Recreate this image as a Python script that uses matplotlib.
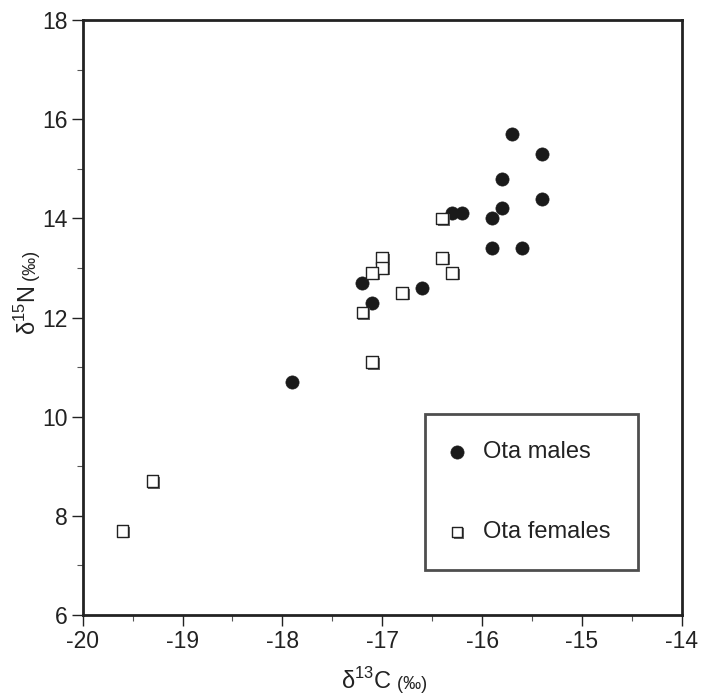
import numpy as np
import matplotlib
matplotlib.use("Agg")
import matplotlib.pyplot as plt
import matplotlib.patheffects as pe

plt.rcParams['font.family'] = ['Liberation Sans', 'DejaVu Sans']

# Ota males: d13C, d15N
males_c = [-15.7, -15.4, -15.8, -15.4, -15.8, -15.9, -16.3, -16.2, -15.9, -15.6, -17.2, -17.1, -16.6, -17.9]
males_n = [15.7, 15.3, 14.8, 14.4, 14.2, 14.0, 14.1, 14.1, 13.4, 13.4, 12.7, 12.3, 12.6, 10.7]

# Ota females
females_c = [-16.4, -17.0, -17.0, -17.1, -16.4, -16.3, -16.8, -17.2, -17.1, -19.3, -19.6]
females_n = [14.0, 13.2, 13.0, 12.9, 13.2, 12.9, 12.5, 12.1, 11.1, 8.7, 7.7]

x_ticks = [-20, -19, -18, -17, -16, -15, -14]
y_ticks = [6, 8, 10, 12, 14, 16, 18]

fig = plt.figure(figsize=(7.03, 6.95), dpi=100)
ax = fig.add_axes([0.1176, 0.1151, 0.8524, 0.8561])

shadow = [pe.SimplePatchShadow(offset=(1.2, -1.2), shadow_rgbFace='#555555', alpha=0.9), pe.Normal()]

ax.scatter(males_c, males_n, s=90, marker='o', color='#1a1a1a', edgecolor='#1a1a1a',
           linewidths=0.5, zorder=3, label='Ota males')
ax.scatter(females_c, females_n, s=70, marker='s', facecolor='white', edgecolor='#222222',
           linewidths=1.0, zorder=4, label='Ota females', path_effects=shadow)

ax.set_xlim(-20, -14)
ax.set_ylim(6, 18)
ax.set_xticks(x_ticks)
ax.set_yticks(y_ticks)
ax.set_xticks(np.arange(-19.5, -14, 1.0), minor=True)
ax.set_yticks(np.arange(7, 18, 2), minor=True)
ax.set_xticklabels([str(t) for t in x_ticks])
ax.set_yticklabels([str(t) for t in y_ticks])
ax.tick_params(which='major', direction='out', length=8, width=1.0, labelsize=16.5, pad=3, colors='#222222')
ax.tick_params(which='minor', direction='out', length=4, width=0.8, colors='#555555')

for sp in ax.spines.values():
    sp.set_linewidth(2.0)
    sp.set_color('#222222')

# axis labels, the per-mille part drawn smaller
ax.text(0.516, -0.124, r'δ$^{\mathregular{13}}$C', transform=ax.transAxes, ha='right',
        va='baseline', fontsize=17, color='#222222')
ax.text(0.516, -0.124, ' (‰)', transform=ax.transAxes, ha='left',
        va='baseline', fontsize=13, color='#222222')
ax.text(-0.078, 0.553, r'δ$^{\mathregular{15}}$N', transform=ax.transAxes, ha='right',
        va='baseline', rotation=90, rotation_mode='anchor', fontsize=17, color='#222222')
ax.text(-0.078, 0.553, ' (‰)', transform=ax.transAxes, ha='left',
        va='baseline', rotation=90, rotation_mode='anchor', fontsize=13, color='#222222')

leg = ax.legend(loc='upper left', bbox_to_anchor=(0.572, 0.338), borderaxespad=0,
                fontsize=17, frameon=True, fancybox=False, handlelength=0.4,
                handletextpad=0.9, borderpad=1.15, labelspacing=2.45, scatterpoints=1)
leg.get_frame().set_edgecolor('#222222')
leg.get_frame().set_linewidth(2.0)
leg.legend_handles[1].set_sizes([55])
for t in leg.get_texts():
    t.set_color('#222222')

fig.savefig('out.png', dpi=100)
